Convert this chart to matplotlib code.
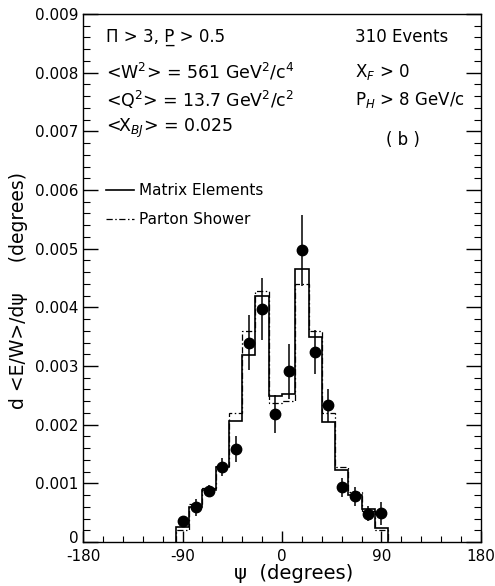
import numpy as np
import matplotlib
matplotlib.use("Agg")
import matplotlib.pyplot as plt
import matplotlib.transforms as mtransforms
from matplotlib.ticker import MultipleLocator, FixedLocator

# ---- data ----
bin_edges = [-96, -84, -72, -60, -48, -36, -24, -12, 0, 12, 24, 36, 48, 60, 72, 84, 96]
matrix_elements = [0.00026, 0.00060, 0.00089, 0.00128, 0.00207, 0.00319, 0.00419, 0.00249,
                   0.00252, 0.00466, 0.00350, 0.00205, 0.00123, 0.00080, 0.00057, 0.00024]
parton_shower = [0.00020, 0.00065, 0.00092, 0.00130, 0.00220, 0.00360, 0.00428, 0.00237,
                 0.00240, 0.00440, 0.00360, 0.00220, 0.00128, 0.00085, 0.00052, 0.00020]
psi_points = [-90, -78, -66, -54, -42, -30, -18, -6, 6, 18, 30, 42, 54, 66, 78, 90]
data_values = [0.00035, 0.00059, 0.00087, 0.00128, 0.00158, 0.00340, 0.00397, 0.00218,
               0.00291, 0.00497, 0.00324, 0.00233, 0.00093, 0.00078, 0.00048, 0.00049]
data_errors = [0.00010, 0.00014, 0.00010, 0.00015, 0.00022, 0.00047, 0.00053, 0.00033,
               0.00047, 0.00060, 0.00037, 0.00028, 0.00016, 0.00016, 0.00013, 0.00020]
x_ticks = [-180, -90, 0, 90, 180]
y_ticks = [0, 0.001, 0.002, 0.003, 0.004, 0.005, 0.006, 0.007, 0.008, 0.009]
y_ticklabels = ["0", "0.001", "0.002", "0.003", "0.004", "0.005", "0.006", "0.007", "0.008", "0.009"]

plt.rcParams['font.family'] = ['DejaVu Sans']
fig = plt.figure(figsize=(4.95, 5.86), dpi=100)
ax = fig.add_axes([0.1677, 0.0751, 0.8040, 0.9010])

ax.stairs(matrix_elements, bin_edges, baseline=0, color='black', lw=1.2)
ax.stairs(parton_shower, bin_edges, baseline=0, color='black', lw=0.9,
          linestyle=(0, (5, 2, 1.2, 2)))
ax.errorbar(psi_points, data_values, yerr=data_errors, fmt='o', color='black',
            ms=7.5, elinewidth=1.1, capsize=0)

ax.set_xlim(-180, 180)
ax.set_ylim(0, 0.009)
ax.xaxis.set_major_locator(FixedLocator(x_ticks))
ax.xaxis.set_minor_locator(MultipleLocator(18))
ax.yaxis.set_major_locator(FixedLocator(y_ticks))
ax.yaxis.set_minor_locator(MultipleLocator(0.0002))
ax.set_yticklabels(y_ticklabels)
ax.set_xticklabels([str(t) for t in x_ticks])
ax.tick_params(axis='both', which='both', direction='in', labelsize=11)
ax.tick_params(axis='y', which='both', left=True, right=True)
ax.tick_params(axis='y', which='major', length=11, width=1)
ax.tick_params(axis='y', which='minor', length=5, width=0.8)
ax.tick_params(axis='x', which='major', length=8, width=1, pad=5)
ax.tick_params(axis='x', which='minor', length=4, width=0.8)
ax.tick_params(axis='y', pad=3)
for s in ax.spines.values():
    s.set_linewidth(1.0)

# nudge the "0" y tick label up so it sits above "-180" as in the reference
zero_lab = ax.yaxis.get_majorticklabels()[0]
zero_lab.set_transform(zero_lab.get_transform() +
                       mtransforms.ScaledTranslation(0, 5 / 100, fig.dpi_scale_trans))

ax.set_xlabel("ψ  (degrees)", fontsize=14)
ax.xaxis.set_label_coords(0.528, -0.059, transform=ax.transAxes)
ax.xaxis.label.set_va('center')
ax.set_ylabel("d <E/W>/dψ     (degrees)", fontsize=13.5)
ax.yaxis.set_label_coords(-0.162, 0.477)
ax.yaxis.label.set_va('center')

fs = 12
def t(x, y, s, size=fs):
    fig.text(x / 495, 1 - y / 586, s, fontsize=size, va='center', ha='left')

t(106, 37, "Π > 3, P\u0332 > 0.5")
t(106, 72, "<W$^2$> = 561 GeV$^2$/c$^4$", 12.5)
t(106, 100, "<Q$^2$> = 13.7 GeV$^2$/c$^2$", 12.5)
t(106, 128, "<X$_{BJ}$> = 0.025", 12.5)
t(355, 37, "310 Events")
t(355, 72, "X$_F$ > 0")
t(355, 100, "P$_H$ > 8 GeV/c")
t(386, 140, "( b )")

# legend
ax.plot([-159, -134], [0.006, 0.006], color='black', lw=1.2)
ax.plot([-159, -134], [0.0055, 0.0055], color='black', lw=0.9, linestyle=(0, (5, 2, 1.2, 2)))
ax.text(-129, 0.006, "Matrix Elements", fontsize=11, va='center', ha='left')
ax.text(-129, 0.0055, "Parton Shower", fontsize=11, va='center', ha='left')

fig.savefig("out.png", dpi=100)
